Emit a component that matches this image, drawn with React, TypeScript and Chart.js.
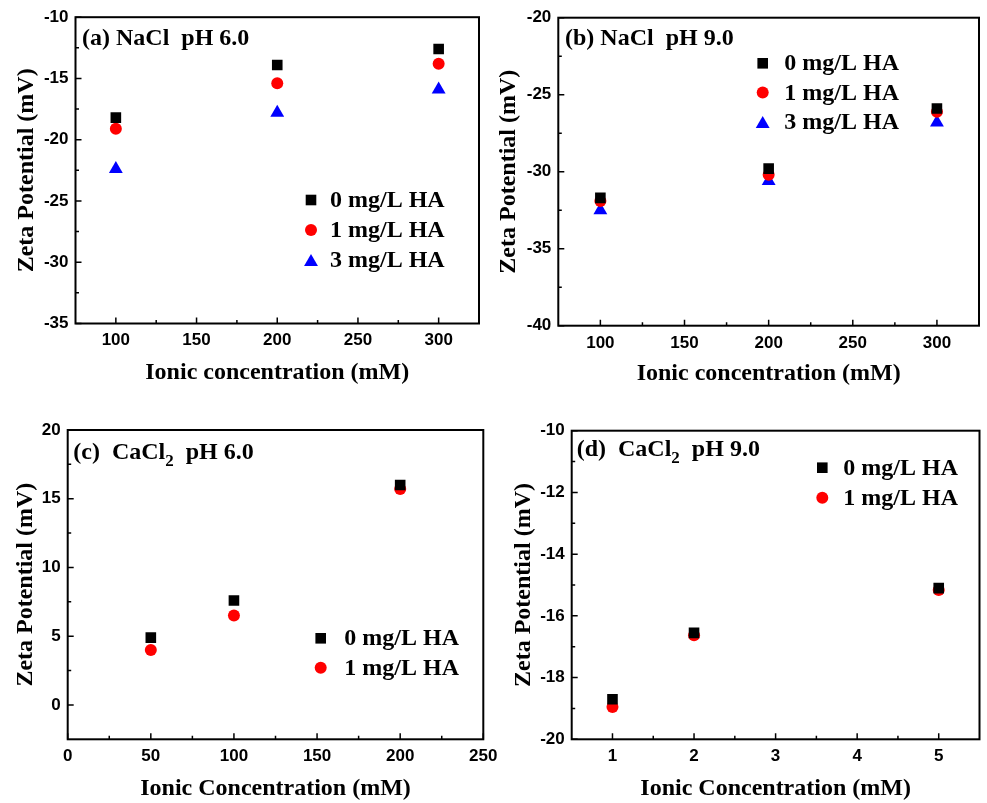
import React, { useEffect, useRef } from 'react';
import { Chart, registerables } from 'chart.js';

Chart.register(...registerables);

// ---------- DATA ----------
const seriesLabels = ['0 mg/L HA', '1 mg/L HA', '3 mg/L HA'];

// (a) NaCl pH 6.0
const naclConc = [100, 200, 300];
const naclPH6_0HA = [-18.2, -13.9, -12.6];
const naclPH6_1HA = [-19.1, -15.4, -13.8];
const naclPH6_3HA = [-22.4, -17.8, -15.9];

// (b) NaCl pH 9.0
const naclPH9_0HA = [-31.7, -29.8, -25.9];
const naclPH9_1HA = [-31.9, -30.2, -26.1];
const naclPH9_3HA = [-32.5, -30.6, -26.8];

// (c) CaCl2 pH 6.0
const caclConcPH6 = [50, 100, 200];
const caclPH6_0HA = [4.9, 7.6, 16.0];
const caclPH6_1HA = [4.0, 6.5, 15.7];

// (d) CaCl2 pH 9.0
const caclConcPH9 = [1, 2, 5];
const caclPH9_0HA = [-18.7, -16.55, -15.1];
const caclPH9_1HA = [-18.95, -16.63, -15.16];

// Tick labels / ranges
const xTicksA = [100, 150, 200, 250, 300];
const xRangeA = [75, 325];
const yTicksA = [-35, -30, -25, -20, -15, -10];
const yTicksB = [-40, -35, -30, -25, -20];
const xTicksC = [0, 50, 100, 150, 200, 250];
const yTicksC = [0, 5, 10, 15, 20];
const yRangeC = [-2.5, 20];
const xTicksD = [1, 2, 3, 4, 5];
const xRangeD = [0.5, 5.5];
const yTicksD = [-20, -18, -16, -14, -12, -10];

const xTitleLower = 'Ionic concentration (mM)';
const xTitleUpper = 'Ionic Concentration (mM)';
const yTitle = 'Zeta Potential (mV)';

// ---------- STYLE ----------
const markerStyles = [
  { pointStyle: 'rect', color: '#000000', radius: 7.5 },
  { pointStyle: 'circle', color: '#ff0000', radius: 6 },
  { pointStyle: 'triangle', color: '#0000ff', radius: 8 },
];

const SERIF = '"Liberation Serif", "Times New Roman", serif';
const SANS = '"Liberation Sans", Arial, sans-serif';

function drawMarker(ctx: CanvasRenderingContext2D, style: string, x: number, y: number, r: number, color: string) {
  ctx.save();
  ctx.fillStyle = color;
  ctx.beginPath();
  if (style === 'rect') {
    const s = Math.SQRT1_2 * r;
    ctx.rect(x - s, y - s, 2 * s, 2 * s);
  } else if (style === 'circle') {
    ctx.arc(x, y, r, 0, Math.PI * 2);
  } else {
    const a = (2 * Math.PI) / 3;
    ctx.moveTo(x, y - r);
    ctx.lineTo(x + Math.sin(a) * r, y - Math.cos(a) * r);
    ctx.lineTo(x + Math.sin(2 * a) * r, y - Math.cos(2 * a) * r);
    ctx.closePath();
  }
  ctx.fill();
  ctx.restore();
}

const decorPlugin = {
  id: 'decor',
  beforeDatasetsDraw(chart: any, _args: any, opts: any) {
    const ctx = chart.ctx as CanvasRenderingContext2D;
    const { left, right, top, bottom } = chart.chartArea;
    const xs = chart.scales.x;
    const ys = chart.scales.y;
    ctx.save();
    ctx.strokeStyle = '#000';
    ctx.lineWidth = 1.5;
    const major = 6;
    const minor = 3.5;
    const xT: number[] = opts.xTicks;
    const yT: number[] = opts.yTicks;
    ctx.beginPath();
    xT.forEach((v, i) => {
      const px = xs.getPixelForValue(v);
      ctx.moveTo(px, bottom);
      ctx.lineTo(px, bottom - major);
      if (i < xT.length - 1) {
        const mx = xs.getPixelForValue((v + xT[i + 1]) / 2);
        ctx.moveTo(mx, bottom);
        ctx.lineTo(mx, bottom - minor);
      }
    });
    yT.forEach((v, i) => {
      const py = ys.getPixelForValue(v);
      ctx.moveTo(left, py);
      ctx.lineTo(left + major, py);
      if (i < yT.length - 1) {
        const my = ys.getPixelForValue((v + yT[i + 1]) / 2);
        ctx.moveTo(left, my);
        ctx.lineTo(left + minor, my);
      }
    });
    ctx.stroke();
    ctx.lineWidth = 2;
    ctx.strokeRect(left, top, right - left, bottom - top);
    ctx.restore();
  },
  afterDraw(chart: any, _args: any, opts: any) {
    const ctx = chart.ctx as CanvasRenderingContext2D;
    ctx.save();
    ctx.fillStyle = '#000';
    ctx.textBaseline = 'alphabetic';
    ctx.textAlign = 'left';
    // panel label
    let x = opts.label.x;
    const y = opts.label.y;
    opts.label.parts.forEach((p: any) => {
      if (p.sub) {
        ctx.font = `bold 17px ${SERIF}`;
        ctx.fillText(p.t, x, y + 7);
      } else {
        ctx.font = `bold 24px ${SERIF}`;
        ctx.fillText(p.t, x, y);
      }
      x += ctx.measureText(p.t).width;
    });
    // legend
    const lg = opts.legend;
    chart.data.datasets.forEach((ds: any, i: number) => {
      const ry = lg.y + i * lg.dy;
      const ms = markerStyles[i];
      const my = ms.pointStyle === 'triangle' ? ry + ms.radius / 4 : ry;
      drawMarker(ctx, ms.pointStyle, lg.mx, my, ms.radius, ms.color);
      ctx.font = `bold 24px ${SERIF}`;
      ctx.fillStyle = '#000';
      ctx.fillText(ds.label, lg.tx, ry + 7);
    });
    ctx.restore();
  },
};

type PanelCfg = {
  box: { x: number; y: number; w: number; h: number };
  area: { l: number; t: number; r: number; b: number };
  yTitleX: number;
  xTitleY: number;
  xTitle: string;
  xTicks: number[];
  yTicks: number[];
  xRange: number[];
  yRange: number[];
  xVals: number[];
  series: number[][];
  label: { x: number; y: number; parts: { t: string; sub?: boolean }[] };
  legend: { mx: number; tx: number; y: number; dy: number };
};

function Panel({ cfg }: { cfg: PanelCfg }) {
  const ref = useRef<HTMLCanvasElement | null>(null);
  useEffect(() => {
    if (!ref.current) return;
    const { box, area } = cfg;
    const datasets = cfg.series.map((vals, i) => ({
      label: seriesLabels[i],
      data: cfg.xVals.map((xv, j) => ({ x: xv, y: vals[j] })),
      pointStyle: markerStyles[i].pointStyle,
      pointRadius: markerStyles[i].radius,
      pointBackgroundColor: markerStyles[i].color,
      pointBorderColor: markerStyles[i].color,
      pointBorderWidth: 0,
      showLine: false,
    }));
    const tickFont = { family: SANS, size: 17, weight: 'bold' as const };
    const titleFont = { family: SERIF, size: 24, weight: 'bold' as const, lineHeight: 1.2 };
    const chart = new Chart(ref.current, {
      type: 'scatter',
      data: { datasets },
      plugins: [decorPlugin],
      options: {
        responsive: false,
        animation: false,
        layout: {
          padding: { left: 0, top: area.t - box.y, right: box.x + box.w - area.r, bottom: 0 },
        },
        plugins: {
          legend: { display: false },
          tooltip: { enabled: false },
          decor: {
            xTicks: cfg.xTicks,
            yTicks: cfg.yTicks,
            label: { x: cfg.label.x - box.x, y: cfg.label.y - box.y, parts: cfg.label.parts },
            legend: {
              mx: cfg.legend.mx - box.x,
              tx: cfg.legend.tx - box.x,
              y: cfg.legend.y - box.y,
              dy: cfg.legend.dy,
            },
          },
        } as any,
        scales: {
          x: {
            type: 'linear',
            min: cfg.xRange[0],
            max: cfg.xRange[1],
            afterBuildTicks: (s: any) => {
              s.ticks = cfg.xTicks.map((v) => ({ value: v }));
            },
            afterFit: (s: any) => {
              s.height = box.y + box.h - area.b;
            },
            grid: { display: false, drawTicks: false },
            border: { display: false },
            ticks: { color: '#000', font: tickFont, padding: 7, maxRotation: 0, autoSkip: false },
            title: {
              display: true,
              text: cfg.xTitle,
              color: '#000',
              font: titleFont,
              padding: { top: 0, bottom: box.h - (cfg.xTitleY - box.y) - 14.4 },
            },
          },
          y: {
            type: 'linear',
            min: cfg.yRange[0],
            max: cfg.yRange[1],
            afterBuildTicks: (s: any) => {
              s.ticks = cfg.yTicks.map((v) => ({ value: v }));
            },
            afterFit: (s: any) => {
              s.width = area.l - box.x;
            },
            grid: { display: false, drawTicks: false },
            border: { display: false },
            ticks: { color: '#000', font: tickFont, padding: 7, autoSkip: false },
            title: {
              display: true,
              text: yTitle,
              color: '#000',
              font: titleFont,
              padding: { top: cfg.yTitleX - box.x - 14.4, bottom: 0 },
            },
          },
        },
      } as any,
    });
    return () => chart.destroy();
  }, [cfg]);
  const { box } = cfg;
  return (
    <canvas
      ref={ref}
      width={box.w}
      height={box.h}
      style={{ position: 'absolute', left: box.x, top: box.y, width: box.w, height: box.h }}
    />
  );
}

const panels: PanelCfg[] = [
  {
    box: { x: 0, y: 0, w: 493, h: 400 },
    area: { l: 75.5, t: 16.5, r: 479, b: 323.5 },
    yTitleX: 27,
    xTitleY: 373,
    xTitle: xTitleLower,
    xTicks: xTicksA,
    yTicks: yTicksA,
    xRange: xRangeA,
    yRange: [yTicksA[0], yTicksA[yTicksA.length - 1]],
    xVals: naclConc,
    series: [naclPH6_0HA, naclPH6_1HA, naclPH6_3HA],
    label: { x: 82, y: 45, parts: [{ t: '(a) NaCl  pH 6.0' }] },
    legend: { mx: 311, tx: 330, y: 200, dy: 30 },
  },
  {
    box: { x: 493, y: 0, w: 494, h: 400 },
    area: { l: 558.3, t: 17.7, r: 985, b: 325.7 },
    yTitleX: 508.3,
    xTitleY: 374,
    xTitle: xTitleLower,
    xTicks: xTicksA,
    yTicks: yTicksB,
    xRange: xRangeA,
    yRange: [yTicksB[0], yTicksB[yTicksB.length - 1]],
    xVals: naclConc,
    series: [naclPH9_0HA, naclPH9_1HA, naclPH9_3HA],
    label: { x: 565, y: 45, parts: [{ t: '(b) NaCl  pH 9.0' }] },
    legend: { mx: 762.7, tx: 784.3, y: 63.3, dy: 29.3 },
  },
  {
    box: { x: 0, y: 400, w: 520, h: 420 },
    area: { l: 67.7, t: 430, r: 483.3, b: 739.3 },
    yTitleX: 25.3,
    xTitleY: 789,
    xTitle: xTitleUpper,
    xTicks: xTicksC,
    yTicks: yTicksC,
    xRange: [xTicksC[0], xTicksC[xTicksC.length - 1]],
    yRange: yRangeC,
    xVals: caclConcPH6,
    series: [caclPH6_0HA, caclPH6_1HA],
    label: { x: 73.3, y: 459, parts: [{ t: '(c)  CaCl' }, { t: '2', sub: true }, { t: '  pH 6.0' }] },
    legend: { mx: 320.7, tx: 344.3, y: 638.3, dy: 29.4 },
  },
  {
    box: { x: 493, y: 400, w: 494, h: 420 },
    area: { l: 571.7, t: 430.7, r: 985.5, b: 739.3 },
    yTitleX: 523.7,
    xTitleY: 789,
    xTitle: xTitleUpper,
    xTicks: xTicksD,
    yTicks: yTicksD,
    xRange: xRangeD,
    yRange: [yTicksD[0], yTicksD[yTicksD.length - 1]],
    xVals: caclConcPH9,
    series: [caclPH9_0HA, caclPH9_1HA],
    label: { x: 576.7, y: 455.5, parts: [{ t: '(d)  CaCl' }, { t: '2', sub: true }, { t: '  pH 9.0' }] },
    legend: { mx: 822.3, tx: 843.3, y: 467.7, dy: 30 },
  },
];

export default function App() {
  return (
    <div
      style={{
        position: 'fixed',
        left: 0,
        top: 0,
        width: 987,
        height: 803,
        overflow: 'hidden',
        background: '#ffffff',
      }}
    >
      {panels.map((p, i) => (
        <Panel key={i} cfg={p} />
      ))}
    </div>
  );
}
